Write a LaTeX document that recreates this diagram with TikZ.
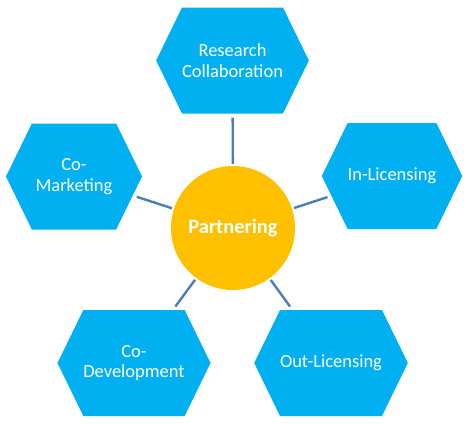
\documentclass[tikz,border=0pt]{standalone}
\usepackage{fontspec}
\setmainfont{Carlito}
\usepackage{tikz}
\usetikzlibrary{
    positioning,
    shapes.symbols
}
\definecolor{hexblue}{HTML}{00B0F0}
\definecolor{hubgold}{HTML}{FFC000}
\definecolor{linkblue}{HTML}{4A7EBB}

\begin{document}
\begin{tikzpicture}[x=1pt, y=-1pt,
    hexbox/.style={signal, signal to=east and west, signal pointer angle=128,
        fill=hexblue, text=white, minimum height=106pt, inner sep=0pt,
        align=center, font=\fontsize{18.5}{20.5}\selectfont},
    link/.style={draw=linkblue, line width=2.4pt, shorten <=2pt, shorten >=4pt}
]

    \useasboundingbox (0,0) rectangle (465,423);

    % Hub
    \node[circle, fill=hubgold, minimum size=124pt, inner sep=0pt, text=white,
          font=\fontsize{20.5}{23}\selectfont\bfseries] (hub) at (233,228) {Partnering};

    % Partnering forms
    \node[hexbox, minimum width=151pt] (research) at (232.5,60.5) {Research\\Collaboration};
    \node[hexbox, minimum width=136pt] (comarket) at (74,176.5) {Co-\\Marketing};
    \node[hexbox, minimum width=130pt] (inlic) at (392,176) {In-Licensing};
    \node[hexbox, minimum width=150pt] (codev) at (134,363) {Co-\\Development};
    \node[hexbox, minimum width=146pt] (outlic) at (331,363) {Out-Licensing};

    % Links
    \foreach \target in {research, comarket, inlic, codev, outlic}
        \draw[link] (hub) -- (\target);

\end{tikzpicture}
\end{document}
